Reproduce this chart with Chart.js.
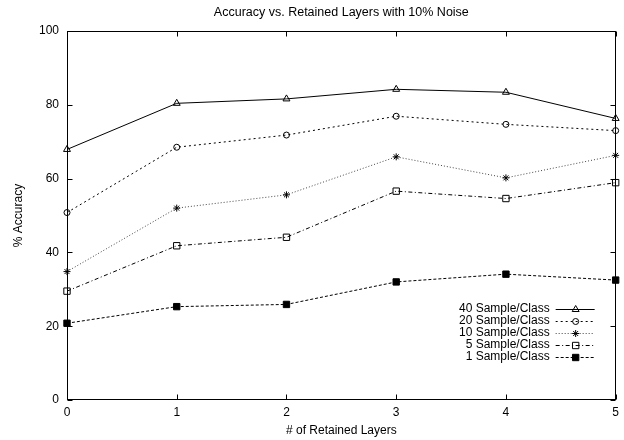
<!DOCTYPE html>
<html>
<head>
<meta charset="utf-8">
<script src="https://cdn.jsdelivr.net/npm/chart.js@4.4.0/dist/chart.umd.min.js"></script>
<style>
html,body{margin:0;padding:0;background:#fff;}
#wrap{width:624px;height:440px;}
</style>
</head>
<body>
<div id="wrap"><canvas id="chart" width="624" height="440"></canvas></div>
<script>
// ================= DATA =================
const layers = [0, 1, 2, 3, 4, 5];
const yTicks = [0, 20, 40, 60, 80, 100];
const seriesNames = ["40 Sample/Class", "20 Sample/Class", "10 Sample/Class", "5 Sample/Class", "1 Sample/Class"];
const acc40 = [67.9, 80.4, 81.6, 84.2, 83.4, 76.3];
const acc20 = [50.8, 68.5, 71.8, 76.9, 74.7, 73.0];
const acc10 = [34.8, 52.0, 55.6, 65.9, 60.2, 66.3];
const acc5  = [29.5, 41.8, 44.1, 56.6, 54.6, 58.9];
const acc1  = [20.8, 25.3, 25.9, 32.0, 34.1, 32.5];

const FONT = {family: "'Liberation Sans', Arial, sans-serif", size: 12, weight: "normal"};

// ================= STYLES =================
const styles = [
  {dash: [],               color: "#000", point: "triangle", r: 4,   fill: "rgba(0,0,0,0)"},
  {dash: [2, 3],           color: "#000", point: "circle",   r: 3,   fill: "rgba(0,0,0,0)"},
  {dash: [1, 2],           color: "#444", point: "star",     r: 3.5, fill: "rgba(0,0,0,0)"},
  {dash: [4, 2.5, 1, 2.5], color: "#000", point: "rect",     r: 4.5, fill: "rgba(0,0,0,0)"},
  {dash: [3, 2],           color: "#000", point: "rect",     r: 4.5, fill: "#000"}
];
const series = [acc40, acc20, acc10, acc5, acc1];

const datasets = series.map((vals, i) => ({
  label: seriesNames[i],
  data: vals.map((v, j) => ({x: layers[j], y: v})),
  borderColor: styles[i].color,
  borderWidth: 1,
  borderDash: styles[i].dash,
  pointStyle: styles[i].point,
  pointRadius: styles[i].r,
  pointBorderColor: "#000",
  pointBackgroundColor: styles[i].fill,
  pointBorderWidth: 1,
  tension: 0,
  clip: false
}));

// ================= FRAME (border + inward ticks) =================
const framePlugin = {
  id: "frame",
  beforeDatasetsDraw(chart){
    const {ctx, chartArea: a, scales: {x, y}} = chart;
    const L = Math.round(a.left) + 0.5, R = Math.round(a.right) - 0.5;
    const T = Math.round(a.top) + 0.5, B = Math.round(a.bottom) - 0.5;
    ctx.save();
    ctx.strokeStyle = "#000";
    ctx.lineWidth = 1;
    ctx.strokeRect(L, T, R - L, B - T);
    ctx.beginPath();
    yTicks.forEach(v => {
      const py = Math.round(y.getPixelForValue(v)) + 0.5;
      ctx.moveTo(L, py); ctx.lineTo(L + 5, py);
      ctx.moveTo(R, py); ctx.lineTo(R - 5, py);
    });
    layers.forEach(v => {
      const px = Math.round(x.getPixelForValue(v)) + 0.5;
      ctx.moveTo(px, B); ctx.lineTo(px, B - 5);
      ctx.moveTo(px, T); ctx.lineTo(px, T + 5);
    });
    ctx.stroke();
    ctx.restore();
  }
};

// ================= KEY (gnuplot-style legend) =================
const keyPlugin = {
  id: "key",
  afterDraw(chart){
    const {ctx, chartArea: a} = chart;
    ctx.save();
    ctx.font = "12px 'Liberation Sans', Arial, sans-serif";
    ctx.textAlign = "right";
    ctx.textBaseline = "middle";
    chart.data.datasets.forEach((ds, i) => {
      const ty = a.top + 277.5 + i * 12;
      const tx = a.right - 66;
      ctx.fillStyle = "#000";
      ctx.fillText(ds.label, tx, ty);
      ctx.strokeStyle = ds.borderColor;
      ctx.lineWidth = 1;
      ctx.setLineDash(ds.borderDash);
      ctx.beginPath();
      ctx.moveTo(tx + 6, Math.round(ty) + 0.5);
      ctx.lineTo(tx + 45, Math.round(ty) + 0.5);
      ctx.stroke();
      ctx.setLineDash([]);
      ctx.strokeStyle = ds.pointBorderColor;
      ctx.fillStyle = ds.pointBackgroundColor;
      Chart.helpers.drawPoint(ctx, {pointStyle: ds.pointStyle, radius: ds.pointRadius, borderWidth: 1, rotation: 0}, tx + 26, Math.round(ty) + 0.5);
    });
    ctx.restore();
  }
};

new Chart(document.getElementById("chart"), {
  type: "line",
  data: {datasets},
  options: {
    responsive: false,
    animation: false,
    devicePixelRatio: 1,
    layout: {padding: {left: 0, right: 6, top: 0, bottom: 0}},
    plugins: {
      legend: {display: false},
      tooltip: {enabled: false},
      title: {
        display: true,
        text: "Accuracy vs. Retained Layers with 10% Noise",
        fullSize: false,
        color: "#000",
        font: {family: FONT.family, size: 12.5, weight: "normal"},
        padding: {top: 5.5, bottom: 10.5}
      }
    },
    scales: {
      x: {
        type: "linear",
        min: 0, max: 5,
        afterBuildTicks: s => { s.ticks = layers.map(v => ({value: v})); },
        afterFit: s => { s.height = 40; },
        grid: {display: false, drawTicks: false},
        border: {display: false},
        ticks: {color: "#000", padding: 5, font: FONT, maxRotation: 0},
        title: {display: true, text: "# of Retained Layers", color: "#000", font: FONT, padding: {top: 0, bottom: 2}}
      },
      y: {
        type: "linear",
        min: 0, max: 100,
        afterBuildTicks: s => { s.ticks = yTicks.map(v => ({value: v})); },
        afterFit: s => { s.width = 67; },
        grid: {display: false, drawTicks: false},
        border: {display: false},
        ticks: {color: "#000", padding: 8, font: FONT},
        title: {display: true, text: "% Accuracy", color: "#000", font: FONT, padding: {top: 11, bottom: 0}}
      }
    }
  },
  plugins: [framePlugin, keyPlugin]
});
</script>
</body>
</html>
